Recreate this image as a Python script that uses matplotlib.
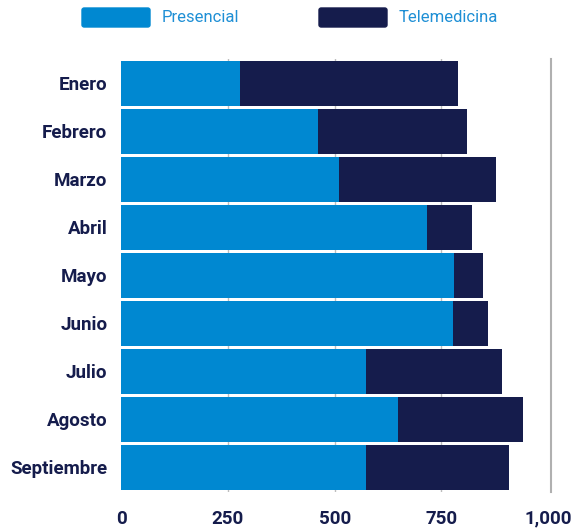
#!/usr/bin/env python3
"""Consultas mensuales: presencial vs telemedicina (barras apiladas horizontales)."""

import matplotlib
matplotlib.use("Agg")
import matplotlib.pyplot as plt
from matplotlib.patches import FancyBboxPatch

meses = ["Enero", "Febrero", "Marzo", "Abril", "Mayo", "Junio",
         "Julio", "Agosto", "Septiembre"]
presencial = [279, 461, 510, 716, 779, 778, 573, 648, 573]
telemedicina = [511, 348, 368, 106, 68, 81, 318, 293, 336]
xticks = [0, 250, 500, 750, 1000]
xtick_labels = ["0", "250", "500", "750", "1,000"]

AZUL = "#0088d1"
NAVY = "#151c4c"
TEXTO_LEYENDA = "#1e8fd5"

plt.rcParams["font.family"] = ["Roboto", "DejaVu Sans"]

W, H = 574, 530
fig = plt.figure(figsize=(W / 100, H / 100), dpi=100)
ax = fig.add_axes([121.3 / W, 1 - 491.5 / H, 429.7 / W, 432 / H])

y = list(range(len(meses)))
ax.barh(y, presencial, height=0.94, color=AZUL, zorder=3)
ax.barh(y, telemedicina, left=presencial, height=0.94, color=NAVY, zorder=3)

ax.set_xlim(0, 1007)
ax.set_ylim(len(meses) - 0.5, -0.5)
ax.set_yticks(y)
ax.set_yticklabels(meses, fontsize=13.5, fontweight="bold", color=NAVY)
ax.set_xticks(xticks)
ax.set_xticklabels(xtick_labels, fontsize=13.5, fontweight="bold", color=NAVY)
ax.tick_params(axis="both", length=0)
ax.tick_params(axis="y", pad=10)
ax.tick_params(axis="x", pad=13)

for v in xticks[1:-1]:
    ax.axvline(v, color="#bdbdbd", lw=1.0, zorder=1)

for side in ["top", "left", "bottom"]:
    ax.spines[side].set_visible(False)
ax.spines["right"].set_color("#b0b0b0")
ax.spines["right"].set_linewidth(1.5)

# leyenda superior
for x0, color, label in [(82, AZUL, "Presencial"), (319, NAVY, "Telemedicina")]:
    fig.add_artist(FancyBboxPatch(
        (x0 / W, 1 - 27 / H), 68 / W, 19 / H,
        boxstyle="round,pad=0,rounding_size=0.004",
        transform=fig.transFigure, color=color))
    fig.text((x0 + 80) / W, 1 - 17.5 / H, label, fontsize=12,
             color=TEXTO_LEYENDA, va="center", ha="left")

fig.savefig("out.png", dpi=100)
